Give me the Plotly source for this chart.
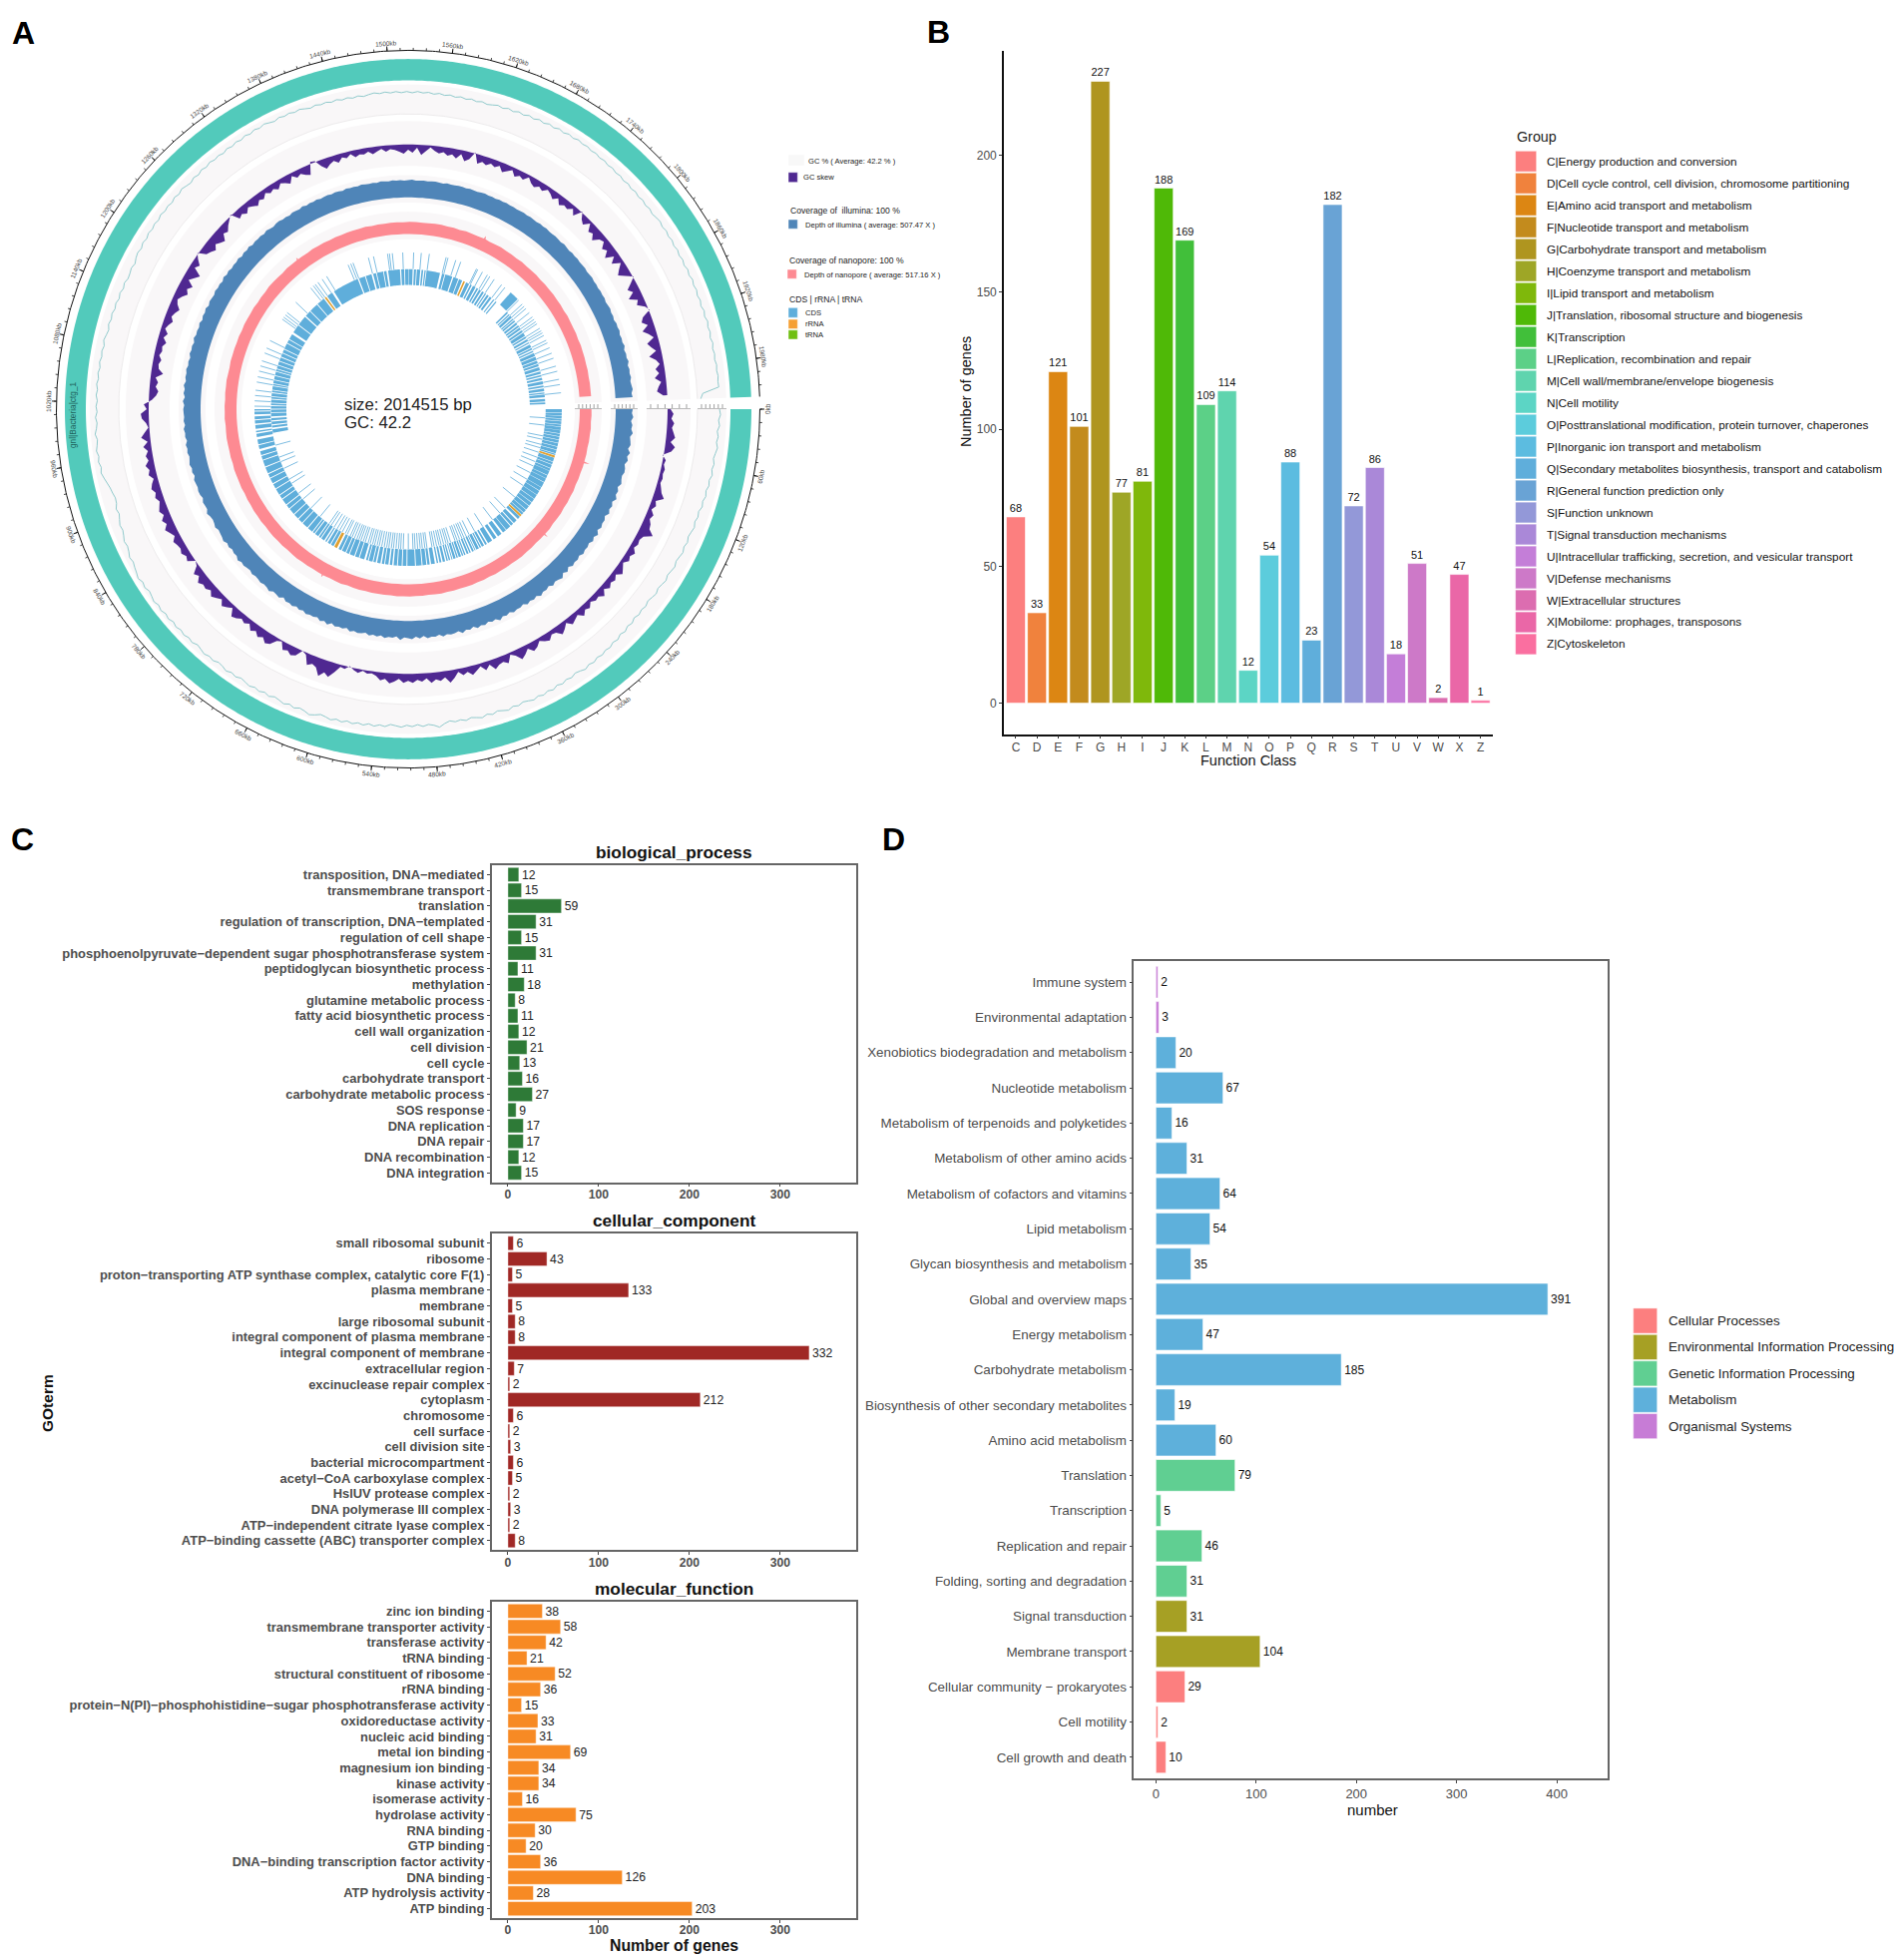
import numpy as np
import plotly.graph_objects as go

FONT = "Liberation Sans"
W, H = 1902, 1964

# ---------- Panel A data ----------
genome_kb = 2014.515
axis_label_kb = list(range(0, 1981, 60))
gc_percent = [42.9,43.6,42.4,43.2,41.9,42.8,42.0,43.1,42.2,41.4,
 42.4,41.6,42.6,41.3,42.0,40.9,41.8,40.7,41.5,40.2,
 41.0,40.1,41.2,40.4,39.8,40.9,40.0,41.1,40.3,39.7,
 40.8,40.1,39.4,40.5,39.6,38.9,40.0,39.2,38.4,39.5,
 38.7,39.6,38.5,39.9,39.0,40.4,39.3,40.8,39.9,41.2,
 40.5,41.6,40.7,42.0,41.1,42.4,41.3,40.6,41.9,41.0,
 42.3,41.2,42.7,41.6,42.9,41.8,43.0,42.1,41.4,42.6,
 41.7,43.1,42.2,41.3,42.6,41.5,42.9,42.0,41.2,42.4,
 41.3,42.0,40.9,42.2,44.2,42.6,41.8,42.9,41.6,42.8,
 41.9,43.2,42.4,41.7,43.3,42.5,43.7,42.6,43.9,43.0,
 44.2,43.1,44.5,43.5,44.8,43.8,43.2,44.6,45.6,44.3,
 43.6,44.9,43.7,45.0,44.0,43.3,44.7,43.6,44.8,43.9,
 45.0,44.1,43.4,44.7,43.8,45.1,44.0,43.5,44.9,44.2,
 45.3,44.4,43.7,45.1,44.3,45.4,44.5,45.6,44.6,45.9,
 45.0,46.2,45.2,46.4,45.5,44.8,46.1,45.2,46.6,45.6,
 44.9,44.0,44.8,43.5,42.7,43.4,42.2,41.3,41.9,40.8,
 39.7,40.6,39.2,38.9,39.8,40.5,41.7,43.0,44.2,43.4,
 44.6,43.8,44.9,44.0,43.4,44.6,43.5,42.9,43.8,42.7,
 43.4,42.6,43.5,42.8,43.6,42.7,43.4,42.5,43.3,42.4,
 43.0,42.1,43.2,42.3,41.5,42.6,41.7,42.4,41.4,42.1,
 41.0,41.9,40.8,41.7,40.6,40.9,41.6,40.7,41.9,42.6,
 41.8,43.0,42.1,43.2,42.4,43.3,42.5,43.6,42.7,43.4,
 42.6,43.7,42.8,43.9,43.0,42.3,43.5,42.6,43.8,42.9,
 44.0,43.1,43.8,42.9,44.1,43.2,44.3,43.4,44.6,43.6,
 44.8,43.9,45.0,44.1,43.4,44.5,43.7,44.4,43.5,44.2,
 43.3,42.5,43.4,42.6,43.2,42.3,43.1,42.1,42.8,41.9,
 42.7,41.8,42.6,43.2,42.4,43.1,42.3,43.0,42.2,42.9,
 42.1,43.0,42.2,42.8,41.9,42.7,41.8,42.5,41.6,42.4,
 41.5,42.3,41.4,42.2,41.3,41.9,42.7,41.8,42.9,42.0,
 43.2,42.3,43.5,42.6,43.8,42.9,44.1,43.2,44.4,43.5,
 44.6,43.7,44.8,43.9,44.5,43.6,44.2,43.3,43.9,43.0,
 43.6,42.7,43.3,42.4,43.2,42.3,43.1,42.2,43.0,42.1,
 42.9,42.0,42.8,43.3,42.4,43.2,42.3,43.0,42.1,42.9,
 42.0,42.8,41.9,42.9,42.0,43.0,42.1,42.8,41.9,42.7,
 41.8,42.9,42.0,43.1,42.2,42.9,42.0,43.0,42.1,42.8,
 42.2,43.0,42.5,43.1,42.6,42.9,32.0,30.5]
gc_skew = [3,6,4,7,5,7,9,5,10,7,
 -1,3,2,4,3,4,3,5,7,11,
 4,6,3,7,5,8,9,15,7,5,
 6,4,8,5,7,3,6,9,4,7,
 5,8,4,9,5,6,3,7,5,9,
 4,6,8,3,7,10,5,4,8,6,
 3,7,9,4,8,11,5,2,9,6,
 7,10,4,8,3,6,9,5,7,3,
 8,12,6,9,7,10,5,8,6,9,
 7,9,5,8,10,6,8,4,2,3,
 1,4,2,-1,3,2,9,15,12,17,
 10,8,11,2,0,7,9,6,8,1,
 3,9,11,7,10,6,9,4,7,5,
 8,10,3,6,9,4,7,10,6,9,
 8,11,6,9,2,0,7,5,8,6,
 7,9,5,8,11,7,10,6,9,7,
 5,8,6,9,7,4,8,6,9,5,
 7,4,8,3,9,5,1,3,7,8,
 2,5,-3,-7,-9,-6,-8,-5,-12,-7,
 -6,-8,-5,-7,-6,-9,-5,-8,-4,-6,
 -9,-6,-8,-11,-7,-5,-8,-12,-9,-13,
 -6,-10,-14,-5,-8,-3,1,-7,-9,-12,
 -8,-11,-13,-7,-9,-5,-2,1,-8,-6,
 -9,-5,-7,-10,-6,-8,-4,-7,-5,-8,
 -4,-6,-9,-3,-7,-5,-8,-10,2,1,
 -6,-10,-7,-5,-8,-4,-6,-3,-7,-5,
 -6,-4,-7,-5,-3,-6,-4,-5,-7,-9,
 -5,-8,-3,-10,-6,-2,-5,-7,-5,-8,
 -6,-9,-4,-10,-7,1,-9,-6,-8,-5,
 -7,-4,-9,-6,-3,-8,-5,-7,-2,-6,
 -8,-5,-7,-3,-5,-8,-4,-9,-6,-7,
 -3,-8,1,-5,-8,-2,-9,-7,-12,-6,
 -4,-10,-7,-13,-5,-11,-3,-8,-12,-6,
 1,-5,-11,-7,-14,-6,-9,-2,1,-8,
 -11,-6,-13,-8,-4,-12,-9,-5,-13,-7,
 -4,-9,-6,-11,-5,-8,-10,-4]
depth_illumina = [512,486,530,468,515,492,548,478,505,528,
 470,552,488,535,465,508,522,480,498,536,
 462,518,490,560,472,525,485,540,455,512,
 495,532,470,562,488,545,475,510,498,538,
 468,515,490,528,452,535,462,565,520,486,
 542,470,512,495,558,478,525,488,538,465,
 510,500,535,472,520,490,568,480,512,470,
 528,495,540,462,518,486,552,475,508,525,
 490,540,468,515,498,530,456,522,470,535,
 505,488,560,462,512,495,540,478,520,486,
 532,470,508,525,492,538,465,515,500,530,
 475,555,488,542,470,510,498,535,482,520,
 472,528,495,515,450,530,505,490,556,510,
 495,525,500,488,515,472,492,520,498,548,
 485,502,466,512,480,538,506,490,476,525,
 488,470,496,545,480,492,510,462,500,515,
 490,505,524,468,512,486,530,502,480,518,
 495,525,470,510,498,530,480,515,495,508,
 518,490,535,480,525,498,540,488,520,505,
 532,492,512,480,528,500,518,485,535,495,
 510,488,525,478,515,498,530,482,520,505,
 490,528,500,515,484,535,495,522,488,510,
 500,525,480,518,495,532,488,512,505,520,
 492,530,502,486,515,525,498,510,482,520,
 505,495,528,488,512,500,522,490,508,518,
 495,515,505,488,520,500,510,494,525,504,
 498,512,490,518,505,496,515,500,508,492,
 510,520,498,505,512,494,508,516,500,490,
 514,502,498,510,506,494,512,500,488,508,
 516,498,504,492,510,500,514,496,506,490,
 502,512,494,508,498,488,510,500,514,496,
 492,506,500,488,512,498,484,504,494,510,
 490,500,508,486,498,512,494,502,488,506,
 496,510,484,500,516,490,504,478,512,498,
 520,486,506,492,528,480,510,496,532,484,
 514,498,524,488,508,535,490,515]
depth_nanopore = [505,512,498,520,508,515,500,518,512,520,505,512,498,522,510,518,504,525,512,500,
 530,520,510,498,516,505,522,512,500,518,510,525,498,515,505,520,512,500,518,508,
 522,510,498,516,505,520,512,525,500,515,508,518,505,522,510,498,530,515,505,520,
 512,500,518,508,525,510,498,515,505,520,512,500,518,510,522,505,515,498,520,508,
 512,525,500,518,505,515,522,510,498,520,508,515,500,518,512,525,505,498,520,510,
 515,505,518,500,522,512,508,520,498,515,505,528,518,510,500,522,512,505,515,498,
 525,510,518,505,520,500,515,512,508,522,498,516,505,518,510,500,520,515,505,512,
 524,520,508,515,498,522,510,505,518,500,512,525,508,515,498,520,505,512,518,500,
 515,508,522,505,512,498,520,510,505,515,500,518,508,512,505,515,500,510,505,508]
nanopore_spike_kb = [93, 236, 663, 1311, 1658]
nanopore_spike_depth = [760, 700, 620, 620, 650]
outer_blocks = [(0,7),(8,13),(13.8,19),(20,24),(25,31),(32,36),(37,43),(44,50),(51,56),(57,63),(64,70),(71,77),(78,84),(85,92),(93,96),
 (102,110),(111,116),(117,124),(125,130),(131,140),(141,147),(148,156),(157,168),(169,176),(177,186),(187,196),(197,205),(206,214),(215,224),(225,232),(233,238),
 (244,250),(254,262),(264,270),(272,283),(284,292),(296,305),(309,316),(320,330),(333,337),
 (340,345),(347,350),(352,358),(360,362),(364,368),(371,374),(376,380),(383,386),(388,391),(393,398),(400,403),(405,410),(412,414),(417,420),(422,425),(428,433),(436,440),(443,446),(450,458),(461,466),(468,476),(478,490),(492,508),
 (510,518),(520,528),(530,537),(540,545),(548,555),(557,562),(565,572),(575,580),(582,590),(592,596),(600,610),(612,620),(622,632),(634,640),(642,650),(652,658),
 (670,676),(678,684),(687,690),(693,700),(702,706),(708,716),(718,722),(724,735),(737,750),(752,762),(764,775),(777,790),(792,800),(802,815),(817,825),(827,840),(842,852),(854,865),(867,875),(877,890),(892,905),(907,915),(917,925),
 (930,938),(940,950),(955,962),(965,968),(972,980),(983,990),(992,998),(1002,1008),(1010,1013),(1755,1775)]
inner_blocks = [(958,966),(970,975),(978,984),(987,992),(996,1004),(1006,1012),(1014,1020),(1022,1026),(1028,1035),(1037,1041),(1043,1050),(1052,1056),(1058,1066),(1068,1071),(1073,1080),(1082,1090),(1092,1100),(1102,1106),(1108,1115),(1117,1125),(1127,1135),(1137,1145),(1147,1155),(1157,1170),(1172,1180),(1182,1195),(1200,1220),(1222,1245),(1248,1262),(1264,1285),(1287,1306),
 (1316,1330),(1335,1398),(1401,1416),(1418,1432),(1436,1443),(1445,1460),(1462,1468),(1472,1500),(1503,1510),(1512,1520),(1521,1530),(1533,1538),(1540,1548),(1551,1555),(1558,1561),(1563,1595),(1600,1606),(1608,1625),(1628,1640),(1642,1650),
 (1660,1668),(1671,1675),(1678,1685),(1688,1692),(1695,1700),(1703,1708),(1711,1714),(1717,1722),(1725,1730),(1735,1738),(1742,1745),
 (1778,1782),(1785,1788),(1790,1796),(1799,1802),(1804,1808),(1811,1816),(1819,1823),(1825,1830),(1833,1838),(1840,1848),(1850,1854),(1857,1862),(1865,1868),(1871,1878),(1880,1884),(1887,1890),(1893,1900),(1902,1910),(1912,1918),(1920,1925),(1928,1935),(1938,1943),(1946,1950),(1953,1958),(1961,1968),(1971,1975),(1978,1984),(1987,1990),(1992,1998),(2002,2008),(2010,2014)]
rrna_blocks = [(97,101),(239,243),(662,668),(1309,1313),(1653,1657)]
outer_single_kb = [1019,1030,1041,1052,1069,1080,1092,1103,1114,1131,1142,1159,1210,1215,1221,1227,1255,1305,1317,1328,1339,1396,1401,1435,1446,1480,1486,1508,1531,1547,1564,1604,1621,1632,1671,1682,1694,1711,1739,1778,1789,1801,1812,1823,1829,1840,1851,1857,1868,1879,1885,1896,1908,1919,1936,1947,1964,1975,1992,1298,1310,1390,1476,1600,1668,1700,1730,1795,1835,1862]
inner_single_kb = [20,37,62,70,82,90,101,113,124,135,152,169,186,219,253,270,293,321,343,366,377,383,394,405,411,422,428,439,450,462,467,478,484,495,518,529,535,546,557,563,569,580,591,602,614,625,636,647,660,675,690,704,731,760,788,805,833,844,872,889,900,929,358,372,389,416,433,445,473,490,506,524,541,552,575,586,597,609,620,630,642,655,668,682,698]

# ---------- Panel B data ----------
cog_letters = list("CDEFGHIJKLMNOPQRSTUVWXZ")
cog_counts = [68,33,121,101,227,77,81,188,169,109,114,12,54,88,23,182,72,86,18,51,2,47,1]
cog_names = ["C|Energy production and conversion","D|Cell cycle control, cell division, chromosome partitioning",
 "E|Amino acid transport and metabolism","F|Nucleotide transport and metabolism","G|Carbohydrate transport and metabolism",
 "H|Coenzyme transport and metabolism","I|Lipid transport and metabolism","J|Translation, ribosomal structure and biogenesis",
 "K|Transcription","L|Replication, recombination and repair","M|Cell wall/membrane/envelope biogenesis","N|Cell motility",
 "O|Posttranslational modification, protein turnover, chaperones","P|Inorganic ion transport and metabolism",
 "Q|Secondary metabolites biosynthesis, transport and catabolism","R|General function prediction only","S|Function unknown",
 "T|Signal transduction mechanisms","U|Intracellular trafficking, secretion, and vesicular transport","V|Defense mechanisms",
 "W|Extracellular structures","X|Mobilome: prophages, transposons","Z|Cytoskeleton"]
cog_colors = ["#FC7F7F","#F0823D","#DC8613","#C38B1D","#AF951F","#9EA626","#7FB80B","#4FB907","#41BF3A","#5CD087","#5FD4AE","#5CD5C5",
 "#5CCCDC","#5CBCE0","#5FAEDB","#69A3D5","#9398D8","#AA88D8","#C47ED8","#CD79C8","#DC6DB0","#EA67A7","#FA6FA0"]

# ---------- Panel C data ----------
bp_terms = ["transposition, DNA−mediated","transmembrane transport","translation","regulation of transcription, DNA−templated","regulation of cell shape",
 "phosphoenolpyruvate−dependent sugar phosphotransferase system","peptidoglycan biosynthetic process","methylation","glutamine metabolic process",
 "fatty acid biosynthetic process","cell wall organization","cell division","cell cycle","carbohydrate transport","carbohydrate metabolic process",
 "SOS response","DNA replication","DNA repair","DNA recombination","DNA integration"]
bp_counts = [12,15,59,31,15,31,11,18,8,11,12,21,13,16,27,9,17,17,12,15]
cc_terms = ["small ribosomal subunit","ribosome","proton−transporting ATP synthase complex, catalytic core F(1)","plasma membrane","membrane","large ribosomal subunit",
 "integral component of plasma membrane","integral component of membrane","extracellular region","excinuclease repair complex","cytoplasm","chromosome","cell surface",
 "cell division site","bacterial microcompartment","acetyl−CoA carboxylase complex","HslUV protease complex","DNA polymerase III complex","ATP−independent citrate lyase complex",
 "ATP−binding cassette (ABC) transporter complex"]
cc_counts = [6,43,5,133,5,8,8,332,7,2,212,6,2,3,6,5,2,3,2,8]
mf_terms = ["zinc ion binding","transmembrane transporter activity","transferase activity","tRNA binding","structural constituent of ribosome","rRNA binding",
 "protein−N(PI)−phosphohistidine−sugar phosphotransferase activity","oxidoreductase activity","nucleic acid binding","metal ion binding","magnesium ion binding","kinase activity",
 "isomerase activity","hydrolase activity","RNA binding","GTP binding","DNA−binding transcription factor activity","DNA binding","ATP hydrolysis activity","ATP binding"]
mf_counts = [38,58,42,21,52,36,15,33,31,69,34,34,16,75,30,20,36,126,28,203]

# ---------- Panel D data ----------
kegg_terms = ["Immune system","Environmental adaptation","Xenobiotics biodegradation and metabolism","Nucleotide metabolism","Metabolism of terpenoids and polyketides",
 "Metabolism of other amino acids","Metabolism of cofactors and vitamins","Lipid metabolism","Glycan biosynthesis and metabolism","Global and overview maps","Energy metabolism",
 "Carbohydrate metabolism","Biosynthesis of other secondary metabolites","Amino acid metabolism","Translation","Transcription","Replication and repair","Folding, sorting and degradation",
 "Signal transduction","Membrane transport","Cellular community − prokaryotes","Cell motility","Cell growth and death"]
kegg_counts = [2,3,20,67,16,31,64,54,35,391,47,185,19,60,79,5,46,31,31,104,29,2,10]
kegg_groups = ["Organismal Systems"]*2+["Metabolism"]*12+["Genetic Information Processing"]*4+["Environmental Information Processing"]*2+["Cellular Processes"]*3
kegg_legend = ["Cellular Processes","Environmental Information Processing","Genetic Information Processing","Metabolism","Organismal Systems"]
kegg_colors = ["#FC7F7F","#A6A024","#60CF92","#5EB0DB","#C77CD6"]

# ---------- Helpers ----------
fig = go.Figure()
CX, CY, RY = 409.0, 410.0, 1.02
DEG = 358.0 / genome_kb

def polar(kb, r):
    t = np.radians(np.asarray(kb, float) * DEG)
    return CX + np.asarray(r, float) * np.cos(t), CY + RY * np.asarray(r, float) * np.sin(t)

def add_px(x, y, **kw):
    kw.setdefault("hoverinfo", "skip")
    kw.setdefault("showlegend", False)
    fig.add_trace(go.Scatter(x=list(x), y=list(y), xaxis="x5", yaxis="y5", **kw))

arc = np.linspace(0, genome_kb, 721)
NOLINE = dict(width=0, simplify=False)

def ring(r0, r1, color):
    xo, yo = polar(arc, r1)
    xi, yi = polar(arc[::-1], r0)
    add_px(np.r_[xo, xi], np.r_[yo, yi], mode="lines", fill="toself", fillcolor=color, line=NOLINE)

def profile(values, r0, scale, offset, color, spike_kb=(), spike_val=()):
    step = genome_kb / len(values)
    kb = np.arange(len(values)) * step
    vals = np.asarray(values, float)
    for k, v in zip(spike_kb, spike_val):
        base = np.interp(k, kb, vals)
        kb = np.r_[kb, k - 1.6, k, k + 1.6]
        vals = np.r_[vals, base, v, base]
    order = np.argsort(kb)
    kb, vals = kb[order], vals[order]
    xo, yo = polar(kb, offset + vals * scale)
    xi, yi = polar(kb[::-1], np.full(len(kb), r0))
    add_px(np.r_[xo, xi], np.r_[yo, yi], mode="lines", fill="toself", fillcolor=color, line=NOLINE)

def blocks(items, r0, r1, color):
    xs, ys = [], []
    for a, b in items:
        k = np.linspace(a, b, max(2, int((b - a) / 4) + 2))
        xo, yo = polar(k, r1)
        xi, yi = polar(k[::-1], r0)
        xs += list(np.r_[xo, xi, xo[0]]) + [None]
        ys += list(np.r_[yo, yi, yo[0]]) + [None]
    add_px(xs, ys, mode="lines", fill="toself", fillcolor=color, line=NOLINE)

def radial(kbs, r0, r1, color, width):
    xs, ys = [], []
    for k in kbs:
        x0, y0 = polar(k, r0)
        x1, y1 = polar(k, r1)
        xs += [x0, x1, None]
        ys += [y0, y1, None]
    add_px(xs, ys, mode="lines", line=dict(color=color, width=width, simplify=False))

annotations, shapes = [], []

def txt(x, y, s, size, color="#222222", anchor="left", bold=False, angle=0):
    annotations.append(dict(x=x, y=y, xref="x5", yref="y5", text=f"<b>{s}</b>" if bold else s, showarrow=False,
                            xanchor=anchor, yanchor="middle", textangle=angle,
                            font=dict(family=FONT, size=size, color=color)))

def swatch(x0, x1, y0, y1, color):
    shapes.append(dict(type="rect", xref="x5", yref="y5", x0=x0, x1=x1, y0=y0, y1=y1, fillcolor=color,
                       line=dict(color="#ffffff", width=0.5)))

# ---------- Panel A drawing ----------
ring(323, 344, "#52CABB")
ring(290, 319, "#F9F7F8")
ring(239, 283, "#F9F7F8")
ring(203, 230, "#F9F7F8")
ring(167, 194, "#F9F7F8")
xa, ya = polar(arc, 290)
add_px(xa, ya, mode="lines", line=dict(color="#EDEBEC", width=1))

gc_kb = np.arange(len(gc_percent)) * genome_kb / (len(gc_percent) - 1)
xg, yg = polar(gc_kb, 311 + (np.asarray(gc_percent) - 42.2) * 1.5)
add_px(xg, yg, mode="lines", line=dict(color="#84C4C6", width=0.9, simplify=False))

profile(gc_skew, 260, 1.0, 260, "#4F2891")
profile(depth_illumina, 208, 17 / 507.47, 208, "#4F85B8")
profile(depth_nanopore, 172, 12 / 517.16, 172, "#FD8A92", nanopore_spike_kb, nanopore_spike_depth)

blocks(outer_blocks, 137.8, 154, "#5FAEDB")
blocks(inner_blocks, 122, 137.5, "#5FAEDB")
radial(outer_single_kb, 137.8, 154, "#7FBEE2", 1.0)
radial(inner_single_kb, 122, 137.5, "#7FBEE2", 1.0)
blocks([b for b in rrna_blocks if b[0] < 1000], 137.8, 154, "#E0A030")
blocks([b for b in rrna_blocks if b[0] > 1000], 122, 137.5, "#E0A030")

xa, ya = polar(arc, 352.5)
add_px(xa, ya, mode="lines", line=dict(color="#111111", width=1))
minor_kb = np.arange(0, genome_kb, 12)
radial(minor_kb, 352.5, 355, "#111111", 0.8)
radial(axis_label_kb, 352.5, 357, "#111111", 1)
for k in axis_label_kb:
    th = k * DEG
    lx, ly = polar(k, 360)
    ang = th - 90 if th <= 180 else th + 90 - 360
    txt(lx, ly, f"{k}kb", 6.5, "#444444", "center", angle=ang)

# small scale marks inside the gap
for r0, r1 in [(167, 194), (203, 230), (239, 283), (290, 319)]:
    add_px([CX + r0, CX + r1], [CY - 0.5, CY - 0.5], mode="lines", line=dict(color="#BBBBBB", width=1))
    xs, ys = [], []
    for rr in np.linspace(r0 + 4, r1 - 4, 6):
        xs += [CX + rr, CX + rr, None]
        ys += [CY - 1, CY - 5, None]
    add_px(xs, ys, mode="lines", line=dict(color="#777777", width=0.7))

txt(343, 405.5, "size: 2014515 bp", 16.8)
txt(343, 423.5, "GC: 42.2", 16.8)
txt(73, 416, "gnl|Bacteria|ctg_1", 8.3, "#1D5F5A", "center", angle=-90)

swatch(790, 806, 155, 166, "#F8F8F8")
add_px([792, 805], [160.7, 160.7], mode="lines", line=dict(color="#84C4C6", width=1))
txt(807.7, 161, "GC % ( Average: 42.2 % )", 7.6)
swatch(790, 799.3, 172.7, 182.7, "#4F2891")
txt(803.3, 177.7, "GC skew", 7.6)
txt(790, 211, "Coverage of  illumina: 100 %", 8.6)
swatch(790, 799.3, 220, 229.3, "#4F85B8")
txt(805, 225, "Depth of illumina ( average: 507.47 X )", 7.6)
txt(789, 261, "Coverage of nanopore: 100 %", 8.6)
swatch(789, 798.3, 270, 279.3, "#FD8A92")
txt(804, 275, "Depth of nanopore ( average: 517.16 X )", 7.6)
txt(789, 300, "CDS | rRNA | tRNA", 8.6)
swatch(790, 799.3, 308.3, 318.3, "#5FAEDB")
txt(805, 313.3, "CDS", 7.6)
swatch(790, 799.3, 320, 329.5, "#F5A033")
txt(805, 324.3, "rRNA", 7.6)
swatch(790, 799.3, 330.7, 340, "#6FBF10")
txt(805, 335.3, "tRNA", 7.6)

# ---------- Panel letters ----------
for s, x, y in [("A", 23, 33), ("B", 940, 32), ("C", 22, 841), ("D", 895, 841)]:
    txt(x, y, s, 32, "#000000", "center", bold=True)

# ---------- Panel B ----------
fig.add_trace(go.Bar(x=cog_letters, y=cog_counts, marker=dict(color=cog_colors, line=dict(color="#ffffff", width=0.6)), width=0.9,
                     text=cog_counts, textposition="outside", cliponaxis=False, showlegend=False,
                     textfont=dict(family=FONT, size=11, color="#111111"), xaxis="x", yaxis="y"))
txt(1518, 136.7, "Group", 14.3)
for i, (n, c) in enumerate(zip(cog_names, cog_colors)):
    yc = 161.7 + 21.99 * i
    swatch(1518.6, 1539.7, yc - 10.4, yc + 10.4, c)
    txt(1548, yc, n, 11.8, "#111111")
txt(968, 393, "Number of genes", 14.5, "#111111", "center", angle=-90)
txt(1250.8, 761.7, "Function Class", 14.5, "#111111", "center")

# ---------- Panel C ----------
def go_panel(terms, counts, color, xa, ya):
    fig.add_trace(go.Bar(y=terms, x=counts, orientation="h", marker=dict(color=color, line=dict(color="rgba(255,255,255,0.55)", width=0.8)),
                         width=0.9, text=counts, textposition="outside", cliponaxis=False, showlegend=False,
                         textfont=dict(family=FONT, size=13, color="#222222"), xaxis=xa, yaxis=ya))

go_panel(bp_terms, bp_counts, "#2E7A37", "x2", "y2")
go_panel(cc_terms, cc_counts, "#A02825", "x3", "y3")
go_panel(mf_terms, mf_counts, "#F78A24", "x4", "y4")
txt(675, 854, "biological_process", 17.3, "#111111", "center", bold=True)
txt(675, 1223, "cellular_component", 17.3, "#111111", "center", bold=True)
txt(675, 1592, "molecular_function", 17.3, "#111111", "center", bold=True)
txt(675, 1949, "Number of genes", 15.8, "#111111", "center", bold=True)
txt(47, 1406, "GOterm", 15.5, "#111111", "center", bold=True, angle=-90)

# ---------- Panel D ----------
color_of = dict(zip(kegg_legend, kegg_colors))
fig.add_trace(go.Bar(y=kegg_terms, x=kegg_counts, orientation="h",
                     marker=dict(color=[color_of[g] for g in kegg_groups], line=dict(color="#ffffff", width=0.6)),
                     width=0.9, text=kegg_counts, textposition="outside", cliponaxis=False, showlegend=False,
                     textfont=dict(family=FONT, size=12, color="#111111"), xaxis="x6", yaxis="y6"))
txt(1375, 1813.7, "number", 15, "#111111", "center")
for i, (n, c) in enumerate(zip(kegg_legend, kegg_colors)):
    yc = 1323.5 + 26.4 * i
    swatch(1636.7, 1660.7, yc - 12.6, yc + 12.6, c)
    txt(1670, yc, n, 13.4, "#222222")

# ---------- Layout ----------
def dom_x(a, b):
    return [a / W, b / W]

def dom_y(top, bottom):
    return [1 - bottom / H, 1 - top / H]

def box_axes(xdom, ydom, xr, yr, ticks_x, anchor_y, anchor_x, bold):
    xf = dict(family=FONT, size=12.2 if bold else 13, color="#4d4d4d")
    yf = dict(family=FONT, size=12.95 if bold else 13.4, color="#4d4d4d")
    if bold:
        xf["weight"] = "bold"
        yf["weight"] = "bold"
    xa = dict(domain=dom_x(*xdom), range=xr, tickvals=ticks_x, anchor=anchor_y, showgrid=False, zeroline=False, showline=True, mirror=True,
              linecolor="#666666", linewidth=1.5, ticks="outside", ticklen=3, tickcolor="#444444", tickfont=xf,
              ticklabelstandoff=-3 if bold else 0)
    ya = dict(domain=dom_y(*ydom), range=yr, type="category", dtick=1, anchor=anchor_x, showgrid=False, zeroline=False, showline=True, mirror=True,
              linecolor="#666666", linewidth=1.5, ticks="outside", ticklen=3, tickcolor="#444444", tickfont=yf)
    return xa, ya

xr_c = [-17.9, 383.2]
x2, y2 = box_axes((492.7, 857.5), (867, 1184.6), xr_c, [19.6, -0.6], [0, 100, 200, 300], "y2", "x2", True)
x3, y3 = box_axes((492.7, 857.5), (1236.4, 1553.2), xr_c, [19.6, -0.6], [0, 100, 200, 300], "y3", "x3", True)
x4, y4 = box_axes((492.7, 857.5), (1605, 1922), xr_c, [19.6, -0.6], [0, 100, 200, 300], "y4", "x4", True)
x6, y6 = box_axes((1136.4, 1611), (963, 1782), [-21.8, 450.6], [22.6, -0.6], [0, 100, 200, 300, 400], "y6", "x6", False)

fig.update_layout(
    width=W, height=H, autosize=False, margin=dict(l=0, r=0, t=0, b=0),
    paper_bgcolor="white", plot_bgcolor="rgba(0,0,0,0)", bargap=0.1, showlegend=False,
    font=dict(family=FONT),
    xaxis=dict(domain=dom_x(1005.9, 1496.3), range=[-0.57, 22.6], type="category", categoryorder="array", categoryarray=cog_letters,
               anchor="y", showgrid=False, zeroline=False, showline=True, linecolor="#111111", linewidth=1.5,
               ticks="outside", ticklen=3, tickcolor="#333333", tickfont=dict(family=FONT, size=12, color="#4d4d4d"),
               ticklabelstandoff=-2),
    yaxis=dict(domain=dom_y(51, 735.7), range=[-11.33, 238.1], anchor="x", tickvals=[0, 50, 100, 150, 200], showgrid=False, zeroline=False,
               showline=True, linecolor="#111111", linewidth=1.5, ticks="outside", ticklen=3, tickcolor="#333333",
               tickfont=dict(family=FONT, size=12, color="#4d4d4d")),
    xaxis2=x2, yaxis2=y2, xaxis3=x3, yaxis3=y3, xaxis4=x4, yaxis4=y4, xaxis6=x6, yaxis6=y6,
    xaxis5=dict(domain=[0, 1], range=[0, W], visible=False, anchor="y5", fixedrange=True),
    yaxis5=dict(domain=[0, 1], range=[H, 0], visible=False, anchor="x5", fixedrange=True),
    annotations=annotations, shapes=shapes,
)
fig.write_html("out.html", config={"displayModeBar": False}, post_script="document.body.style.margin='0';")
